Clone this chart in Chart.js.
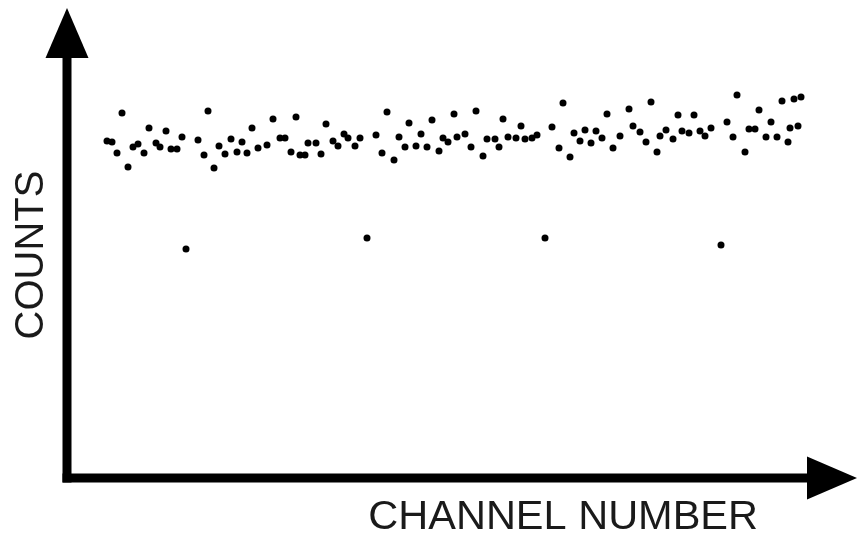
<!DOCTYPE html>
<html>
<head>
<meta charset="utf-8">
<script src="https://cdn.jsdelivr.net/npm/chart.js@4/dist/chart.umd.min.js"></script>
<style>
  html, body { margin: 0; padding: 0; background: #fff; }
  #wrap { width: 862px; height: 538px; }
</style>
</head>
<body>
<div id="wrap"><canvas id="countsChart"></canvas></div>
<script>
"use strict";
// main band of channel counts
const channels = [
  40, 45, 55, 50, 61, 66, 71, 77, 82, 89, 93, 99, 104, 110, 115, 131, 141, 137, 147, 152,
  158, 164, 170, 175, 180, 185, 191, 200, 206, 229, 213, 218, 224, 233, 238, 241, 249, 254, 259, 266,
  271, 277, 281, 288, 293, 309, 315, 320, 327, 332, 338, 342, 349, 354, 360, 365, 372, 376, 381, 387,
  390, 398, 404, 409, 416, 420, 428, 432, 436, 441, 449, 454, 458, 465, 470, 485, 492, 496, 503, 507,
  513, 518, 524, 529, 535, 540, 546, 553, 562, 566, 573, 579, 584, 590, 593, 599, 606, 611, 615, 622,
  627, 633, 638, 644, 660, 666, 670, 678, 682, 688, 692, 699, 704, 710, 715, 721, 723, 731, 727, 734,
];
const counts = [
  337, 336, 365, 325, 311, 331, 334, 325, 350, 335, 331, 347, 329, 329, 341, 338, 367, 323, 310, 332,
  324, 339, 326, 336, 325, 350, 330, 333, 359, 361, 340, 340, 326, 323, 323, 335, 335, 324, 354, 337,
  332, 344, 340, 332, 340, 343, 325, 366, 318, 341, 331, 355, 332, 344, 331, 358, 327, 340, 336, 364,
  341, 344, 331, 367, 322, 339, 339, 331, 359, 341, 340, 352, 339, 340, 343, 351, 330, 375, 321, 345,
  337, 348, 335, 347, 340, 364, 330, 342, 369, 352, 346, 336, 376, 326, 342, 348, 339, 363, 347, 345,
  363, 347, 342, 350, 356, 341, 383, 326, 349, 349, 368, 341, 356, 341, 377, 336, 350, 352, 379, 381,
];
// the four low channels
const lowChannels = [119, 300, 478, 654];
const lowCounts = [229, 240, 240, 233];

const xTitle = "CHANNEL NUMBER";
const yTitle = "COUNTS";

const toPoints = (xs, ys) => xs.map((x, i) => ({ x: x, y: ys[i] }));

// axis lines with arrow heads, plus the x title (it sits left of the arrow, not at the area's end)
const arrowAxes = {
  id: "arrowAxes",
  beforeDatasetsDraw(chart) {
    const ctx = chart.ctx;
    const area = chart.chartArea;
    const ox = area.left;
    const oy = area.bottom;
    const tipY = 8;
    const tipX = chart.width - 5;
    const head = 50;
    const half = 21.5;
    const lw = 9;
    ctx.save();
    ctx.fillStyle = "#000";
    // shafts
    ctx.fillRect(ox - lw / 2, tipY + head - 1, lw, oy + lw / 2 - (tipY + head - 1));
    ctx.fillRect(ox - lw / 2, oy - lw / 2, tipX - head + 1 - (ox - lw / 2), lw);
    // heads
    ctx.beginPath();
    ctx.moveTo(ox, tipY);
    ctx.lineTo(ox + half, tipY + head);
    ctx.lineTo(ox - half, tipY + head);
    ctx.closePath();
    ctx.fill();
    ctx.beginPath();
    ctx.moveTo(tipX, oy);
    ctx.lineTo(tipX - head, oy - half);
    ctx.lineTo(tipX - head, oy + half);
    ctx.closePath();
    ctx.fill();
    // x title
    ctx.fillStyle = "#1a1a1a";
    ctx.font = "41.5px 'Liberation Sans', Arial, sans-serif";
    ctx.textAlign = "right";
    ctx.textBaseline = "middle";
    ctx.fillText(xTitle, 758, 518);
    ctx.restore();
  },
};

const config = {
  type: "scatter",
  data: {
    datasets: [
      {
        label: "Counts",
        data: toPoints(channels, counts),
        backgroundColor: "#000",
        borderWidth: 0,
        pointRadius: 3.5,
      },
      {
        label: "Low counts",
        data: toPoints(lowChannels, lowCounts),
        backgroundColor: "#000",
        borderWidth: 0,
        pointRadius: 3.5,
      },
    ],
  },
  options: {
    responsive: true,
    maintainAspectRatio: false,
    animation: false,
    layout: { padding: { left: 0, right: 55, top: 32, bottom: 0 } },
    plugins: {
      legend: { display: false },
      tooltip: { enabled: false },
    },
    scales: {
      x: {
        type: "linear",
        min: 0,
        max: 740,
        ticks: { display: false },
        grid: { display: false, drawTicks: false },
        border: { display: false },
        title: { display: false, text: xTitle },
        afterFit(scale) {
          scale.height = 60;
        },
      },
      y: {
        type: "linear",
        min: 0,
        max: 446,
        ticks: { display: false },
        grid: { display: false, drawTicks: false },
        border: { display: false },
        title: {
          display: true,
          text: yTitle,
          color: "#1a1a1a",
          font: { family: "'Liberation Sans', Arial, sans-serif", size: 40, lineHeight: 1 },
          padding: { top: 12, bottom: 0 },
        },
        afterFit(scale) {
          scale.width = 67;
        },
      },
    },
  },
  plugins: [arrowAxes],
};

const countsChart = new Chart(document.getElementById("countsChart"), config);
</script>
</body>
</html>
